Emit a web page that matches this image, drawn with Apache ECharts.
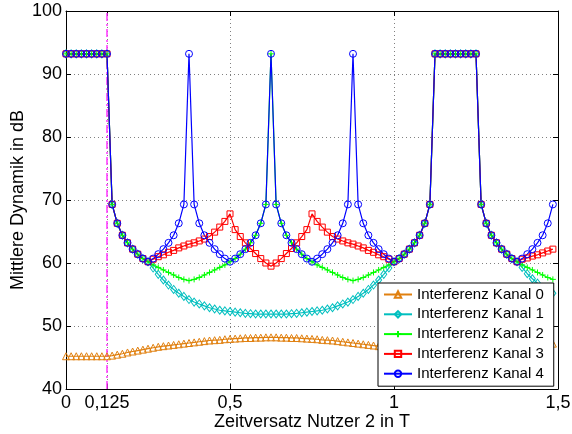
<!DOCTYPE html>
<html><head><meta charset="utf-8">
<script src="https://cdn.jsdelivr.net/npm/echarts@6/dist/echarts.min.js"></script>
<style>html,body{margin:0;padding:0;background:#fff}#c{width:572px;height:434px}</style>
</head><body><div id="c"></div><script>
// sampling step of the time offset (T)
const xStep = 1 / 64;
const xTicks = [0, 0.125, 0.5, 1, 1.5];
const yTicks = [40, 50, 60, 70, 80, 90, 100];
const refLineX = 0.125;
const seriesNames = ['Interferenz Kanal 0', 'Interferenz Kanal 1', 'Interferenz Kanal 2', 'Interferenz Kanal 3', 'Interferenz Kanal 4'];

const kanal0 = [
45.2,45.2,45.2,45.2,45.2,45.2,45.2,45.2,45.2,
45.3,45.45,45.6,45.8,45.95,46.1,46.25,46.4,46.55,46.7,46.8,46.9,47.0,47.1,47.2,47.3,47.4,47.5,47.6,47.7,47.75,47.8,47.9,47.95,48.0,48.05,48.1,48.1,48.15,48.15,48.2,48.2,
48.2,48.15,48.15,48.1,48.1,48.05,48.0,47.95,47.9,47.8,47.75,47.7,47.6,47.5,47.4,47.3,47.2,47.1,47.0,46.9,46.8,46.7,46.55,46.4,46.25,46.1,45.95,45.8,45.6,45.45,45.3,
45.2,45.2,45.2,45.2,45.2,45.2,45.2,45.2,45.2,
45.3,45.45,45.6,45.8,45.95,46.1,46.25,46.4,46.55,46.7,46.8,46.9,47.0,47.1,47.2
];
const kanal1 = [
93.2,93.2,93.2,93.2,93.2,93.2,93.2,93.2,93.2,
69.3,66.3,64.4,63.2,62.2,61.4,60.7,
60.2,
59.2,58.2,57.3,56.5,55.8,55.2,54.7,54.2,53.8,53.5,53.2,52.9,52.7,52.5,52.4,52.3,52.2,52.1,52.0,51.95,51.9,51.9,51.9,51.9,
51.9,51.9,51.9,51.95,52.0,52.1,52.2,52.3,52.4,52.5,52.7,52.9,53.2,53.5,53.8,54.2,54.7,55.2,55.8,56.5,57.3,58.2,59.2,60.2,
60.7,61.4,62.2,63.2,64.4,66.3,69.3,
93.2,93.2,93.2,93.2,93.2,93.2,93.2,93.2,93.2,
69.3,66.3,64.4,63.2,62.2,61.4,60.7,
60.2,
59.3,58.3,57.5,56.8,56.1,55.6,55.2
];
const kanal2 = [
93.2,93.2,93.2,93.2,93.2,93.2,93.2,93.2,93.2,
69.3,66.3,64.4,63.2,62.2,61.4,60.7,
60.2,
59.7,59.3,58.9,58.5,58.1,57.7,57.4,57.2,
57.4,57.7,58.1,58.5,58.9,59.3,59.7,60.2,
60.7,61.4,62.2,63.2,64.4,66.3,69.3,
93.2,
69.3,66.3,64.4,63.2,62.2,61.4,60.7,
60.2,
59.7,59.3,58.9,58.5,58.1,57.7,57.4,57.2,
57.4,57.7,58.1,58.5,58.9,59.3,59.7,60.2,
60.7,61.4,62.2,63.2,64.4,66.3,69.3,
93.2,93.2,93.2,93.2,93.2,93.2,93.2,93.2,93.2,
69.3,66.3,64.4,63.2,62.2,61.4,60.7,
60.2,
59.7,59.3,58.9,58.5,58.1,57.7,57.4
];
const kanal3 = [
93.2,93.2,93.2,93.2,93.2,93.2,93.2,93.2,93.2,
69.3,66.3,64.4,63.2,62.2,61.4,60.7,
60.2,
60.6,61.0,61.3,61.7,62.0,62.4,62.7,
63.0,63.2,63.5,63.8,64.2,64.9,65.7,66.6,67.8,
65.3,64.2,63.2,62.3,61.5,60.7,60.0,59.5,
60.0,60.7,61.5,62.3,63.2,64.2,65.3,67.8,
66.6,65.7,64.9,64.2,63.8,63.5,63.2,63.0,
62.7,62.4,62.0,61.7,61.3,61.0,60.6,60.2,
60.7,61.4,62.2,63.2,64.4,66.3,69.3,
93.2,93.2,93.2,93.2,93.2,93.2,93.2,93.2,93.2,
69.3,66.3,64.4,63.2,62.2,61.4,60.7,
60.2,
60.6,60.8,61.1,61.3,61.6,61.9,62.2
];
const kanal4 = [
93.2,93.2,93.2,93.2,93.2,93.2,93.2,93.2,93.2,
69.3,66.3,64.4,63.2,62.2,61.4,60.7,
60.2,
60.7,61.4,62.2,63.2,64.4,66.3,69.3,
93.2,
69.3,66.3,64.4,63.2,62.2,61.4,60.7,
60.2,
60.7,61.4,62.2,63.2,64.4,66.3,69.3,
93.2,
69.3,66.3,64.4,63.2,62.2,61.4,60.7,
60.2,
60.7,61.4,62.2,63.2,64.4,66.3,69.3,
93.2,
69.3,66.3,64.4,63.2,62.2,61.4,60.7,
60.2,
60.7,61.4,62.2,63.2,64.4,66.3,69.3,
93.2,93.2,93.2,93.2,93.2,93.2,93.2,93.2,93.2,
69.3,66.3,64.4,63.2,62.2,61.4,60.7,
60.2,
60.7,61.4,62.2,63.2,64.4,66.3,69.3
];

const FONT = '"Liberation Sans", Arial, Helvetica, sans-serif';
const chart = echarts.init(document.getElementById('c'), null, {renderer: 'canvas'});

function mk(name, ys, color, symbol, size) {
  return {
    name: name, type: 'line',
    data: ys.map((y, i) => [i * xStep, y]),
    color: color, symbol: symbol, symbolSize: size, showAllSymbol: true,
    lineStyle: {color: color, width: 1.2},
    itemStyle: {color: 'rgba(0,0,0,0)', borderColor: color, borderWidth: 1},
    emphasis: {disabled: true}, animation: false, silent: true
  };
}

const fmt = v => String(v).replace('.', ',');
const axisBase = {
  axisLine: {show: true, onZero: false, lineStyle: {color: '#000', width: 1}}
};

chart.setOption({
  animation: false,
  textStyle: {fontFamily: FONT},
  grid: {left: 66, right: 14, top: 11, bottom: 45, containLabel: false, outerBoundsMode: 'none'},
  legend: {
    data: seriesNames, orient: 'vertical', left: 378, top: 283,
    itemWidth: 28, itemHeight: 8, itemGap: 4.8,
    padding: [4, 10, 5, 5],
    backgroundColor: '#fff', borderColor: '#000', borderWidth: 1, borderRadius: 0,
    textStyle: {fontSize: 15, color: '#000', fontFamily: FONT},
    selectedMode: false
  },
  xAxis: [Object.assign({
    type: 'value', min: 0, max: 1.5, interval: 0.5, position: 'bottom',
    axisTick: {show: true, inside: true, length: 5, customValues: xTicks, lineStyle: {color: '#000'}},
    axisLabel: {customValues: xTicks, formatter: fmt, fontSize: 18, color: '#000', margin: 5, fontFamily: FONT},
    splitLine: {show: true, lineStyle: {color: '#808080', type: [1, 3], width: 1}},
    name: 'Zeitversatz Nutzer 2 in T', nameLocation: 'middle', nameGap: 24, nameMoveOverlap: false,
    nameTextStyle: {fontSize: 18, color: '#000', fontFamily: FONT}
  }, axisBase), Object.assign({
    type: 'value', min: 0, max: 1.5, interval: 0.5, position: 'top',
    axisTick: {show: true, inside: true, length: 5, customValues: xTicks, lineStyle: {color: '#000'}},
    axisLabel: {show: false}, splitLine: {show: false}
  }, axisBase)],
  yAxis: [Object.assign({
    type: 'value', min: 40, max: 100, interval: 10, position: 'left',
    axisTick: {show: true, inside: true, length: 5, customValues: yTicks, lineStyle: {color: '#000'}},
    axisLabel: {customValues: yTicks, fontSize: 18, color: '#000', margin: 4, fontFamily: FONT},
    splitLine: {show: true, lineStyle: {color: '#808080', type: [1, 3], width: 1}},
    name: 'Mittlere Dynamik in dB', nameLocation: 'middle', nameGap: 39, nameMoveOverlap: false,
    nameTextStyle: {fontSize: 18, color: '#000', fontFamily: FONT}
  }, axisBase), Object.assign({
    type: 'value', min: 40, max: 100, interval: 10, position: 'right',
    axisTick: {show: true, inside: true, length: 5, customValues: yTicks, lineStyle: {color: '#000'}},
    axisLabel: {show: false}, splitLine: {show: false}
  }, axisBase)],
  series: [
    {
      name: 'ref', type: 'line', data: [[refLineX, 40], [refLineX, 100]],
      symbol: 'none', silent: true, animation: false, z: 1,
      lineStyle: {color: '#ff33ff', type: [8, 3, 2, 3], width: 1.5},
      emphasis: {disabled: true}
    },
    mk(seriesNames[0], kanal0, '#e08010', 'triangle', 7),
    mk(seriesNames[1], kanal1, '#00bfbf', 'diamond', [6, 8]),
    mk(seriesNames[2], kanal2, '#00ff00', 'path://M3,0L3,6M0,3L6,3', 6),
    mk(seriesNames[3], kanal3, '#ff0000', 'rect', 6),
    mk(seriesNames[4], kanal4, '#0000ff', 'circle', 7)
  ]
});
</script></body></html>
